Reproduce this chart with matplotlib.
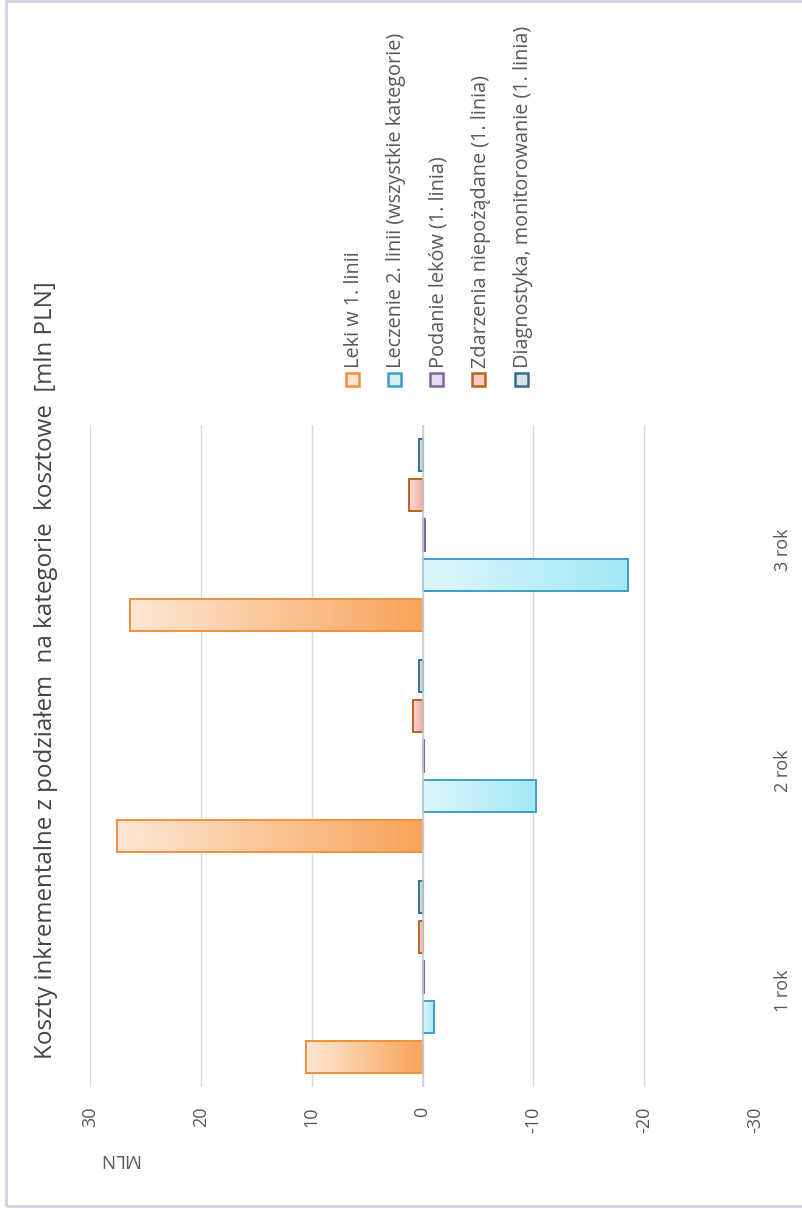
import numpy as np
import matplotlib.pyplot as plt
from matplotlib.patches import Rectangle
from matplotlib.colors import LinearSegmentedColormap

plt.rcParams['font.family'] = ['Open Sans', 'DejaVu Sans']

# dane: koszty inkrementalne [mln PLN]
lata = ['1 rok', '2 rok', '3 rok']
serie = ['Leki w 1. linii',
         'Leczenie 2. linii (wszystkie kategorie)',
         'Podanie leków (1. linia)',
         'Zdarzenia niepożądane (1. linia)',
         'Diagnostyka, monitorowanie (1. linia)']
leki_1_linia = [10.5, 27.6, 26.4]
leczenie_2_linia = [-1.05, -10.2, -18.5]
podanie_lekow = [-0.1, -0.1, -0.2]
zdarzenia_niepozadane = [0.35, 0.9, 1.25]
diagnostyka = [0.3, 0.3, 0.3]
osie_ticks = [30, 20, 10, 0, -10, -20, -30]

wartosci = [leki_1_linia, leczenie_2_linia, podanie_lekow,
            zdarzenia_niepozadane, diagnostyka]

# kolory: obrys, jasny koniec gradientu, ciemny koniec gradientu
obrys = ['#F0913A', '#3D9FC8', '#8064A2', '#B8651F', '#31708A']
jasne = ['#FEE7D3', '#DDF6FB', '#EEE9F4', '#FBDCD8', '#EBEFF1']
ciemne = ['#F8A45C', '#A3E8F7', '#C8BBDD', '#F3AAA2', '#BAC7CD']
leg_fill = ['#FDE2D5', '#D5EFF2', '#E3DCEB', '#F9C9C6', '#DAE0E3']

W, H = 802, 1209
fig = plt.figure(figsize=(W / 100, H / 100), dpi=100)
ax = fig.add_axes([90 / W, 1 - 1087 / H, 665 / W, 662 / H])

y = np.arange(len(lata))
off = 0.181
h = 0.145
grad = np.linspace(0, 1, 64).reshape(1, -1)

for k, vals in enumerate(wartosci):
    pos = y + (k - 2) * off
    ax.barh(pos, vals, height=h, facecolor='none',
            edgecolor=obrys[k], linewidth=1.4, zorder=4)
    cmap = LinearSegmentedColormap.from_list('g%d' % k, [jasne[k], ciemne[k]])
    for p, v in zip(pos, vals):
        ax.imshow(grad, extent=[max(0, v), min(0, v), p - h / 2, p + h / 2],
                  cmap=cmap, aspect='auto', zorder=3, interpolation='bilinear')

ax.set_xlim(30, -30)
ax.set_ylim(-0.5, 2.5)
ax.set_aspect('auto')

ax.set_xticks(osie_ticks)
ax.set_xticklabels([str(t) for t in osie_ticks], rotation=90)
ax.tick_params(axis='x', length=0, pad=14, labelsize=13, labelcolor='#595959')
ax.grid(axis='x', color='#d9d9d9', linewidth=1, zorder=0)
ax.get_xgridlines()[-1].set_color('#f0f0f0')
ax.axvline(0, color='#c5cfdb', linewidth=1.2, zorder=5)

ax.yaxis.tick_right()
ax.set_yticks(y)
ax.set_yticklabels(lata, rotation=90)
ax.tick_params(axis='y', length=0, pad=14, labelsize=13, labelcolor='#595959')

for s in ax.spines.values():
    s.set_visible(False)

# tytul i opis osi
fig.text(46 / W, 1 - 670 / H,
         'Koszty inkrementalne z podziałem  na kategorie  kosztowe  [mln PLN]',
         rotation=90, ha='center', va='center', fontsize=17.4, color='#454545')
fig.text(119 / W, 1 - 1159 / H, 'MLN', rotation=180, ha='center', va='center',
         fontsize=13.5, color='#595959')

# legenda
for k, nazwa in enumerate(serie):
    cx = 352 + 42.25 * k
    fig.add_artist(Rectangle(((cx - 6.5) / W, 1 - 386 / H), 13 / W, 13 / H,
                             transform=fig.transFigure, facecolor=leg_fill[k],
                             edgecolor=obrys[k], linewidth=1.8))
    fig.text((cx + 2) / W, 1 - 368 / H, nazwa, rotation=90, ha='center',
             va='bottom', fontsize=14.3, color='#595959')

# ramka
fig.add_artist(Rectangle((6 / W, 1 - 1206 / H), 800 / W, 1205 / H,
                         transform=fig.transFigure, facecolor='none',
                         edgecolor='#d4d0e4', linewidth=2))

fig.savefig('out.png', dpi=100)
